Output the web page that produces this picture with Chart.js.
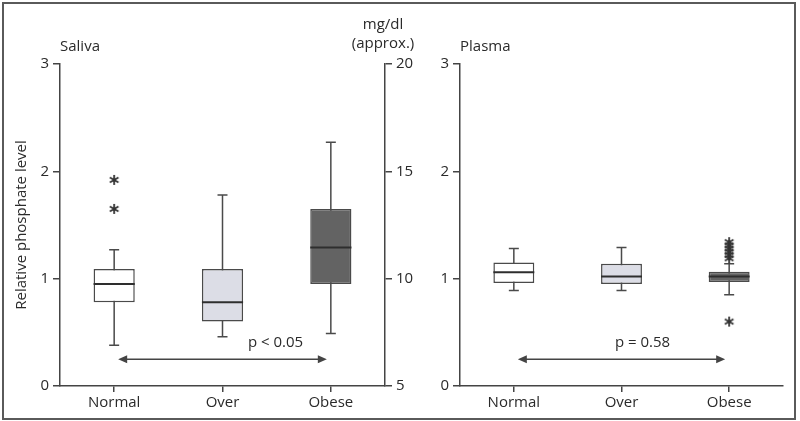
<!DOCTYPE html>
<html>
<head>
<meta charset="utf-8">
<script src="https://cdn.jsdelivr.net/npm/chart.js@4"></script>
<style>
  body { margin: 0; background: #fff; }
  #wrap { position: relative; width: 800px; height: 421px; }
  #wrap canvas { position: absolute; top: 0; }
  #frame { position: absolute; left: 2px; top: 2px; width: 790px; height: 414px; border: 2px solid #5a5a5a; }
</style>
</head>
<body>
<div id="wrap">
  <canvas id="saliva" width="425" height="421" style="left:0"></canvas>
  <canvas id="plasma" width="380" height="421" style="left:420px"></canvas>
  <div id="frame"></div>
</div>
<script>
// Groups and box statistics (relative phosphate level)
const groups = ['Normal', 'Over', 'Obese'];
const boxColors = ['#ffffff', '#dcdde6', '#636363'];

const salivaMin = [0.38, 0.46, 0.49];
const salivaQ1 = [0.78, 0.60, 0.95];
const salivaMedian = [0.95, 0.78, 1.29];
const salivaQ3 = [1.09, 1.09, 1.65];
const salivaMax = [1.27, 1.78, 2.27];
const salivaOutlierGroup = ['Normal', 'Normal'];
const salivaOutlierValue = [1.92, 1.65];

const plasmaMin = [0.89, 0.89, 0.85];
const plasmaQ1 = [0.96, 0.95, 0.97];
const plasmaMedian = [1.06, 1.02, 1.02];
const plasmaQ3 = [1.15, 1.14, 1.065];
const plasmaMax = [1.28, 1.29, 1.14];
const plasmaOutlierGroup = ['Obese', 'Obese', 'Obese', 'Obese', 'Obese', 'Obese', 'Obese'];
const plasmaOutlierValue = [1.19, 1.22, 1.25, 1.28, 1.31, 1.34, 0.60];

const font = "'Open Sans', sans-serif";
const ink = '#2a2a2a';

// six-armed asterisk used for outliers
const asterisk = document.createElement('canvas');
asterisk.width = 12;
asterisk.height = 12;
(function () {
  const c = asterisk.getContext('2d');
  c.strokeStyle = '#333';
  c.lineWidth = 1.8;
  c.beginPath();
  [90, 30, 150].forEach(deg => {
    const a = deg * Math.PI / 180;
    c.moveTo(6 - 5 * Math.cos(a), 6 - 5 * Math.sin(a));
    c.lineTo(6 + 5 * Math.cos(a), 6 + 5 * Math.sin(a));
  });
  c.stroke();
})();

// whiskers, medians, arrow and p value drawn from the scales
function boxPlugin(stats, note) {
  return {
    id: 'boxplot',
    beforeDatasetsDraw(chart) {
      const ctx = chart.ctx;
      const y = chart.scales.y;
      ctx.save();
      ctx.strokeStyle = '#4a4a4a';
      ctx.lineWidth = 1.5;
      chart.getDatasetMeta(0).data.forEach((bar, i) => {
        const top = y.getPixelForValue(stats.max[i]);
        const bottom = y.getPixelForValue(stats.min[i]);
        ctx.beginPath();
        ctx.moveTo(bar.x, top); ctx.lineTo(bar.x, bottom);
        ctx.moveTo(bar.x - 5, top); ctx.lineTo(bar.x + 5, top);
        ctx.moveTo(bar.x - 5, bottom); ctx.lineTo(bar.x + 5, bottom);
        ctx.stroke();
      });
      ctx.restore();
    },
    afterDatasetsDraw(chart) {
      const ctx = chart.ctx;
      const x = chart.scales.x;
      const y = chart.scales.y;
      ctx.save();
      ctx.strokeStyle = '#2e2e2e';
      ctx.lineWidth = 2;
      chart.getDatasetMeta(0).data.forEach((bar, i) => {
        const my = y.getPixelForValue(stats.median[i]);
        ctx.beginPath();
        ctx.moveTo(bar.x - bar.width / 2, my);
        ctx.lineTo(bar.x + bar.width / 2, my);
        ctx.stroke();
      });

      // double arrow Normal <-> Obese
      const ay = y.getPixelForValue(note.arrowAt);
      const x1 = x.getPixelForValue(0) + 4;
      const x2 = x.getPixelForValue(2) - 4;
      ctx.strokeStyle = '#444';
      ctx.fillStyle = '#444';
      ctx.lineWidth = 1.5;
      ctx.beginPath();
      ctx.moveTo(x1 + 4, ay); ctx.lineTo(x2 - 4, ay);
      ctx.stroke();
      ctx.beginPath();
      ctx.moveTo(x1, ay); ctx.lineTo(x1 + 9, ay - 4); ctx.lineTo(x1 + 9, ay + 4); ctx.closePath();
      ctx.moveTo(x2, ay); ctx.lineTo(x2 - 9, ay - 4); ctx.lineTo(x2 - 9, ay + 4); ctx.closePath();
      ctx.fill();

      ctx.fillStyle = ink;
      ctx.font = '15px ' + font;
      ctx.textAlign = 'center';
      ctx.textBaseline = 'middle';
      ctx.fillText(note.text, x.getPixelForValue(1) + note.textShift, y.getPixelForValue(note.textAt));
      ctx.restore();
    },
    afterDraw(chart) {
      const ctx = chart.ctx;
      ctx.save();
      ctx.fillStyle = ink;
      ctx.font = '15px ' + font;
      ctx.textBaseline = 'middle';
      ctx.textAlign = 'left';
      ctx.fillText(note.title, chart.chartArea.left, 47);
      if (note.unit) {
        ctx.textAlign = 'center';
        ctx.fillText('mg/dl', chart.chartArea.right - 2, 25);
        ctx.fillText('(approx.)', chart.chartArea.right - 2, 44);
      }
      ctx.restore();
    }
  };
}

function makeChart(id, stats, outGroup, outValue, note, leftWidth, rightWidth, padRight) {
  const axisLine = { display: true, color: '#444', width: 1.5 };
  const scales = {
    x: {
      type: 'category',
      labels: groups,
      offset: true,
      grid: { drawOnChartArea: false, offset: false, tickLength: 6, color: '#444', lineWidth: 1.5 },
      border: axisLine,
      ticks: { color: ink, font: { family: font, size: 15 }, padding: 2 },
      afterFit(scale) { scale.height = 35; }
    },
    y: {
      position: 'left',
      min: 0, max: 3,
      ticks: { stepSize: 1, color: ink, font: { family: font, size: 15 }, padding: 4 },
      grid: { drawOnChartArea: false, tickLength: 7, color: '#444', lineWidth: 1.5 },
      border: axisLine,
      title: note.unit
        ? { display: true, text: 'Relative phosphate level', color: ink, font: { family: font, size: 15 }, padding: { top: 13, bottom: 0 } }
        : { display: false },
      afterFit(scale) { scale.width = leftWidth; }
    }
  };
  if (note.unit) {
    scales.y2 = {
      position: 'right',
      min: 5, max: 20,
      ticks: { stepSize: 5, color: ink, font: { family: font, size: 15 }, padding: 4 },
      grid: { drawOnChartArea: false, tickLength: 7, color: '#444', lineWidth: 1.5 },
      border: axisLine,
      afterFit(scale) { scale.width = rightWidth; }
    };
  }

  return new Chart(document.getElementById(id), {
    data: {
      labels: groups,
      datasets: [
        {
          type: 'bar',
          data: stats.q1.map((v, i) => [v, stats.q3[i]]),
          backgroundColor: boxColors,
          borderColor: '#4a4a4a',
          borderWidth: 1.5,
          borderSkipped: false,
          categoryPercentage: 1,
          barPercentage: 0.38
        },
        {
          type: 'line',
          data: outGroup.map((g, i) => ({ x: g, y: outValue[i] })),
          showLine: false,
          pointStyle: asterisk,
          pointRadius: 6
        }
      ]
    },
    options: {
      responsive: false,
      animation: false,
      layout: { padding: { top: 64, right: padRight, left: 0, bottom: 0 } },
      scales: scales,
      plugins: { legend: { display: false }, tooltip: { enabled: false } }
    },
    plugins: [boxPlugin(stats, note)]
  });
}

makeChart('saliva',
  { min: salivaMin, q1: salivaQ1, median: salivaMedian, q3: salivaQ3, max: salivaMax },
  salivaOutlierGroup, salivaOutlierValue,
  { title: 'Saliva', unit: true, arrowAt: 0.25, text: 'p < 0.05', textShift: 53, textAt: 0.40 },
  60, 40, 0);

makeChart('plasma',
  { min: plasmaMin, q1: plasmaQ1, median: plasmaMedian, q3: plasmaQ3, max: plasmaMax },
  plasmaOutlierGroup, plasmaOutlierValue,
  { title: 'Plasma', unit: false, arrowAt: 0.25, text: 'p = 0.58', textShift: 21, textAt: 0.40 },
  40, 0, 17);
</script>
</body>
</html>
